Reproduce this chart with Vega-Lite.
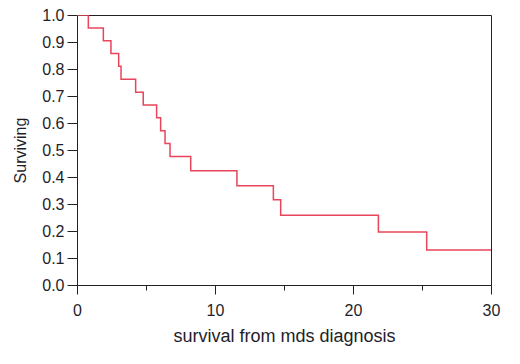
{
  "$schema": "https://vega.github.io/schema/vega-lite/v6.json",
  "width": 414,
  "height": 270,
  "autosize": {"type": "none"},
  "padding": {"left": 77, "top": 15, "right": 29, "bottom": 79},
  "background": "white",
  "config": {
    "view": {"stroke": "#222", "strokeWidth": 1},
    "font": "Liberation Sans",
    "axis": {
      "grid": false,
      "domainColor": "#222",
      "tickColor": "#222",
      "labelColor": "#1e1e2a",
      "titleColor": "#1e1e2a",
      "labelFont": "Liberation Sans",
      "titleFont": "Liberation Sans",
      "labelFontSize": 16,
      "labelOverlap": false,
      "labelFlush": false,
      "titleFontWeight": "normal"
    }
  },
  "data": {
    "values": [
      {"t": 0, "s": 1.0},
      {"t": 0.82, "s": 0.952},
      {"t": 1.91, "s": 0.905},
      {"t": 2.46, "s": 0.857},
      {"t": 3.02, "s": 0.81},
      {"t": 3.19, "s": 0.762},
      {"t": 4.25, "s": 0.714},
      {"t": 4.8, "s": 0.667},
      {"t": 5.77, "s": 0.619},
      {"t": 6.06, "s": 0.571},
      {"t": 6.38, "s": 0.524},
      {"t": 6.74, "s": 0.476},
      {"t": 8.24, "s": 0.423},
      {"t": 11.59, "s": 0.368},
      {"t": 14.23, "s": 0.316},
      {"t": 14.76, "s": 0.258},
      {"t": 21.84, "s": 0.196},
      {"t": 25.34, "s": 0.13},
      {"t": 30, "s": 0.13}
    ]
  },
  "layer": [
    {
      "mark": {"type": "line", "interpolate": "step-after", "color": "#e8455a", "strokeWidth": 1.5, "clip": true},
      "encoding": {
        "x": {
          "field": "t", "type": "quantitative",
          "scale": {"domain": [0, 30], "nice": false, "zero": false},
          "axis": {
            "orient": "bottom",
            "values": [0, 10, 20, 30],
            "tickSize": 9,
            "labelPadding": 8,
            "title": "survival from mds diagnosis",
            "titleFontSize": 18,
            "titlePadding": 9
          }
        },
        "y": {
          "field": "s", "type": "quantitative",
          "scale": {"domain": [0, 1], "nice": false},
          "axis": {
            "values": [0, 0.1, 0.2, 0.3, 0.4, 0.5, 0.6, 0.7, 0.8, 0.9, 1.0],
            "format": ".1f",
            "tickSize": 10,
            "labelPadding": 3,
            "title": "Surviving",
            "titleFontSize": 16,
            "titlePadding": 13
          }
        }
      }
    },
    {
      "mark": {"type": "rule", "opacity": 0},
      "encoding": {
        "x": {
          "field": "t", "type": "quantitative",
          "axis": {
            "orient": "bottom",
            "values": [5, 15, 25],
            "tickSize": 5,
            "labels": false,
            "domain": false,
            "title": null
          }
        }
      }
    }
  ],
  "resolve": {"axis": {"x": "independent"}}
}
